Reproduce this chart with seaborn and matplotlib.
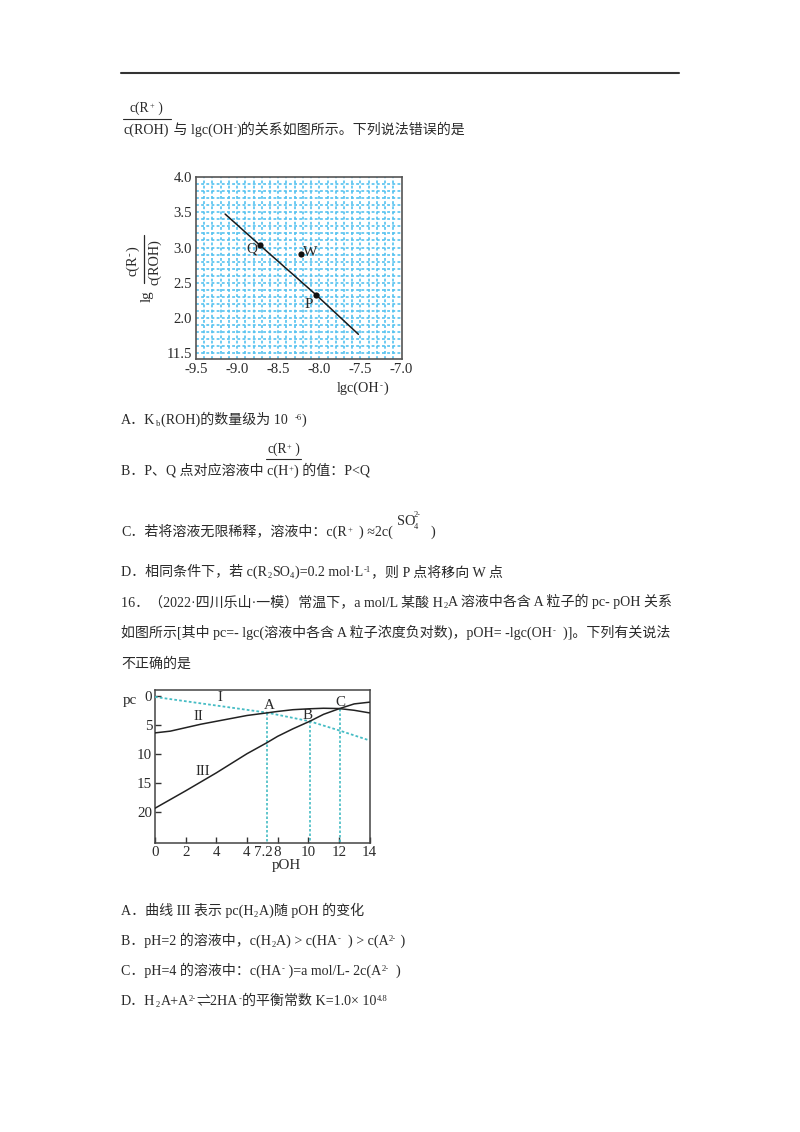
import numpy as np
import pandas as pd
import seaborn as sns
import matplotlib
matplotlib.use("Agg")
import matplotlib.pyplot as plt
from matplotlib.lines import Line2D

# ---- data: upper chart ----
line1_x = [-9.146, -8.72, -8.04, -7.524]
line1_y = [3.475, 3.03, 2.33, 1.77]
points_x = [-8.72, -8.04, -8.22]
points_y = [3.03, 2.33, 2.91]
points_names = ["Q", "P", "W"]
top_xticks = [-9.5, -9.0, -8.5, -8.0, -7.5, -7.0]
top_xlabels = ["-9.5", "-9.0", "-8.5", "-8.0", "-7.5", "-7.0"]
top_yticks = [1.5, 2.0, 2.5, 3.0, 3.5, 4.0]
top_ylabels = ["11.5", "2.0", "2.5", "3.0", "3.5", "4.0"]

# ---- data: lower chart ----
curve1_x = [0, 7.3, 10.1, 12.05, 14]
curve1_y = [0.2, 2.9, 4.4, 6.0, 7.7]
curve2_x = [0, 1, 2, 3, 4, 5, 6, 7.3, 8, 9, 10, 11, 12, 13, 14]
curve2_y = [6.4, 6.1, 5.5, 4.9, 4.4, 3.9, 3.4, 2.95, 2.7, 2.4, 2.25, 2.15, 2.2, 2.5, 2.95]
curve3_x = [0, 2, 4, 6, 7.3, 8, 9, 10.1, 11, 12.05, 13, 14]
curve3_y = [19.4, 16.4, 13.3, 10.0, 8.1, 7.0, 5.7, 4.4, 3.2, 2.2, 1.4, 1.1]
drop_x = [7.3, 10.1, 12.05]
drop_y = [2.9, 4.4, 2.2]
low_xticks = [0, 2, 4, 6, 8, 10, 12, 14]
low_xlabels = ["0", "2", "4", "4", "8", "10", "12", "14"]
low_yticks = [0, 5, 10, 15, 20]

W, H = 800, 1132
sns.set_theme(style="white")
FONT = ["Liberation Serif", "Noto Sans CJK SC"]
plt.rcParams["font.family"] = FONT
INK = "#222222"
BLUE = "#55c2f0"
TEAL = "#45bcc4"
TXT = "#2a2a2a"
BODY = 10.05

fig = plt.figure(figsize=(W / 100, H / 100), dpi=100, facecolor="white")
renderer = fig.canvas.get_renderer()


def put(x, y, s, size=BODY, **kw):
    kw.setdefault("ha", "left")
    kw.setdefault("va", "baseline")
    kw.setdefault("color", TXT)
    return fig.text(x / W, 1 - y / H, s, fontsize=size, **kw)


def rich(x, y, parts, size=BODY):
    """Sequential text; '^x' raises, '_x' lowers a small piece."""
    for p in parts:
        if p.startswith("^"):
            t = put(x, y - 4, p[1:], size=size * 0.62)
        elif p.startswith("_"):
            t = put(x, y + 2, p[1:], size=size * 0.62)
        else:
            t = put(x, y, p, size=size)
        x += t.get_window_extent(renderer).width + 0.4 + (p.endswith(" ") * 3.0)
    return x


def hline(x0, x1, y, lw=1.0, color=TXT):
    fig.add_artist(Line2D([x0 / W, x1 / W], [1 - y / H] * 2, lw=lw, color=color))


def axes_px(x0, y0, x1, y1):
    return fig.add_axes([x0 / W, 1 - y1 / H, (x1 - x0) / W, (y1 - y0) / H])


# ---- page text ----
hline(121, 679, 73, lw=1.5, color="#333333")
rich(130, 112, ["c(R", "^+", " )"], size=9.8)
hline(123, 171, 118.5, lw=0.8)
rich(124, 134, ["c(ROH)", " 与 lgc(OH", "^-", ")的关系如图所示。下列说法错误的是"])

rich(121, 424, ["A．K", "_b", "(ROH)的数量级为 10 ", "^-6", ")"])
rich(267, 453, ["c(R", "^+", " )"], size=9.8)
hline(266, 301, 459, lw=0.8)
rich(121, 475, ["B．P、Q 点对应溶液中 c(H", "^+", ") 的值：P<Q"])
rich(121, 536, ["C．若将溶液无限稀释，溶液中：c(R", "^+", "  ) ≈2c("])
put(397, 525, "SO", size=10.4)
put(414, 517, "2-", size=6)
put(414, 529, "4", size=6)
put(431, 536, ")")
rich(121, 576, ["D．相同条件下，若 c(R", "_2", "SO", "_4", ")=0.2 mol·L", "^-1", "，则 P 点将移向 W 点"])

rich(121, 606, ["16．（2022·四川乐山·一模）常温下，a mol/L 某酸 H", "_2", "A 溶液中各含 A 粒子的 pc- pOH 关系"])
rich(121, 637, ["如图所示[其中 pc=- lgc(溶液中各含 A 粒子浓度负对数)，pOH= -lgc(OH", "^-", "  )]。下列有关说法"])
put(121, 668, "不正确的是")

rich(121, 915, ["A．曲线 III 表示 pc(H", "_2", "A)随 pOH 的变化"])
rich(121, 945, ["B．pH=2 的溶液中，c(H", "_2", "A) > c(HA", "^-", "  ) > c(A", "^2-", " )"])
rich(121, 975, ["C．pH=4 的溶液中：c(HA", "^-", " )=a mol/L- 2c(A", "^2-", "  )"])
rich(121, 1005, ["D．H", "_2", "A+A", "^2-", "⇌2HA", "^-", "的平衡常数 K=1.0× 10", "^4.8"])

# ---- upper chart ----
ax = axes_px(196, 177, 401.5, 359)
ax.set_facecolor("white")
ax.set_xlim(-9.5, -7.0)
ax.set_ylim(1.42, 4.0)
for gx in np.arange(-9.4, -7.05, 0.1):
    ax.axvline(gx, color=BLUE, lw=1.2, ls=(0, (1.7, 1.4)), zorder=1)
for gy in np.arange(1.5, 3.95, 0.1):
    ax.axhline(gy, color=BLUE, lw=1.2, ls=(0, (1.7, 1.4)), zorder=1)
sns.lineplot(x=line1_x, y=line1_y, ax=ax, color="#1a1a1a", lw=1.1, zorder=3, errorbar=None, sort=False)
sns.scatterplot(x=points_x, y=points_y, ax=ax, color="#111111", s=20, zorder=4, linewidth=0)
ax.set_xticks(top_xticks, top_xlabels)
ax.set_yticks(top_yticks, top_ylabels)
ax.tick_params(length=0, labelsize=10.6, pad=3, labelcolor=TXT)
for s in ax.spines.values():
    s.set_color("#555555")
    s.set_linewidth(1.2)
ax.set_xlabel("")
ax.set_ylabel("")
put(252, 249, "Q", size=11, ha="center", va="center")
put(310, 253, "W", size=11, ha="center", va="center")
put(309, 304, "P", size=11, ha="center", va="center")

put(133, 266, "c(R", size=10.2, rotation=90, ha="center", va="center")
put(130, 254.5, "-", size=8, rotation=90, ha="center", va="center")
put(133, 249, ")", size=10.2, rotation=90, ha="center", va="center")
fig.add_artist(Line2D([144 / W] * 2, [1 - 235 / H, 1 - 283 / H], lw=0.9, color=TXT))
put(155, 262, "c(ROH)", size=10.2, rotation=90, ha="center", va="center")
put(147, 296, "lg", size=10.6, rotation=90, ha="center", va="center")
rich(337, 392, ["lgc(OH", "^-", ")"], size=10.2)

# ---- lower chart ----
ax2 = axes_px(155, 690, 369.5, 843)
ax2.set_facecolor("white")
ax2.set_xlim(0, 14)
ax2.set_ylim(25.4, -1.0)
sns.lineplot(x=curve1_x, y=curve1_y, ax=ax2, color=TEAL, lw=1.3, ls=(0, (1.5, 1.2)), errorbar=None, zorder=3)
sns.lineplot(x=curve2_x, y=curve2_y, ax=ax2, color="#222222", lw=1.1, errorbar=None, zorder=3)
sns.lineplot(x=curve3_x, y=curve3_y, ax=ax2, color="#222222", lw=1.1, errorbar=None, zorder=3)
for dx, dy in zip(drop_x, drop_y):
    ax2.plot([dx, dx], [dy, 25.4], color=TEAL, lw=1.2, ls=(0, (1.5, 1.2)), zorder=2)
ax2.set_xticks(low_xticks, low_xlabels)
ax2.set_xticks([7.1], ["7.2"], minor=True)
ax2.set_yticks(low_yticks, [str(v) for v in low_yticks])
ax2.tick_params(axis="both", which="major", direction="in", length=4, width=1, color="#333333",
                labelsize=10.8, labelcolor=TXT, bottom=True, left=True, pad=2)
ax2.tick_params(axis="x", which="minor", length=0, labelsize=10.8, labelcolor=TXT, pad=2, bottom=True)
for s in ax2.spines.values():
    s.set_color("#444444")
    s.set_linewidth(1.1)
ax2.set_xlabel("")
ax2.set_ylabel("")
put(130, 704, "pc", size=10.8, ha="center")
put(286, 869, "pOH", size=10.8, ha="center")
put(220, 701, "I", size=10.8, ha="center")
put(198, 720, "II", size=10.8, ha="center")
put(203, 775, "III", size=10.8, ha="center")
put(269, 709, "A", size=10.8, ha="center")
put(308, 719, "B", size=10.8, ha="center")
put(340, 706, "C", size=10.8, ha="center")

fig.savefig("out.png", dpi=100, facecolor="white")
